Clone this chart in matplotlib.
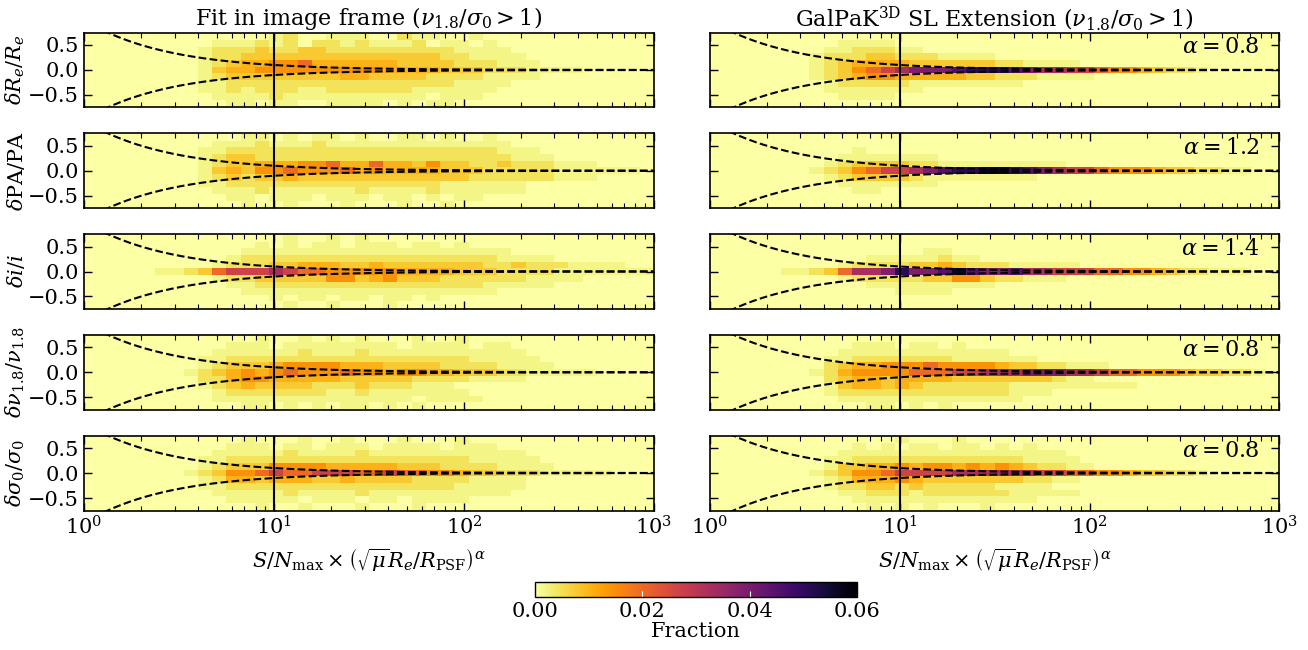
import numpy as np
import matplotlib
matplotlib.use("Agg")
import matplotlib.pyplot as plt

plt.rcParams['font.family'] = 'DejaVu Serif'
plt.rcParams['mathtext.fontset'] = 'dejavuserif'

# histogram binning: 40 log bins over 1..1000, 11 visible rows of width 2/15
x_edges = np.logspace(0, 3, 41)
y_edges = np.linspace(-11 / 15, 11 / 15, 12)

# intensity codes -> fraction
LEVELS = {'0': 0.0, '1': 0.002, '2': 0.0045, '3': 0.0075, '4': 0.0105,
          '5': 0.0145, '6': 0.020, '7': 0.027, '8': 0.033, '9': 0.039,
          'a': 0.045, 'b': 0.051, 'c': 0.057}

# each panel: 11 rows (top = +0.67, bottom = -0.67), 40 columns (x bins)
re_image = [
    "0000000000000120011100211001000000000000",
    "0000000001112120221211120110100000000000",
    "0000000012223223322222222211110000000000",
    "0000000012233333333333333221111000000000",
    "0000000012344556444444333322211100000000",
    "0000000013445555555554444333222111100000",
    "0000000012333333334433332222111100000000",
    "0000000011222222222222222211110000000000",
    "0000000011212221122222211111100000000000",
    "0000000001111211111111110111000000000000",
    "0000000000110110011110101100000000000000",
]
re_galpak = [
    "0000000000000000000000000000000000000000",
    "0000000001111000000000000000000000000000",
    "0000000011222110000000000000000000000000",
    "0000000122233222111100000000000000000000",
    "0000000123444433333322111100000000000000",
    "00000001235678999abbba988776554322100000",
    "0000000123455444443322211110000000000000",
    "0000000012222211111111000000000000000000",
    "0000000011111110000000000000000000000000",
    "0000000001111000000000000000000000000000",
    "0000000000000000000000000000000000000000",
]
pa_image = [
    "0000000000011010110100110100100000000000",
    "0000000001112111211111111111110000000000",
    "0000000011222222222222222222211100000000",
    "0000000012332222222222222222221110000000",
    "0000000012334445564464435332232221110000",
    "0000000013435565556454444333222221111110",
    "0000000012323343333333333332222221110000",
    "0000000011222222222222222111111000000000",
    "0000000001112111111211112111111000000000",
    "0000000000110111011101101011000000000000",
    "0000000000010010001000100100000000000000",
]
pa_galpak = [
    "0000000000000000000000000000000000000000",
    "0000000000000000000000000000000000000000",
    "0000000000100000000000000000000000000000",
    "0000000001111111000000000000000000000000",
    "0000000012333322111111111000000000000000",
    "0000000123567789abbccba98776555433221100",
    "0000000012333321111111100000000000000000",
    "0000000001111111000000000000000000000000",
    "0000000000110000000000000000000000000000",
    "0000000000000000000000000000000000000000",
    "0000000000000000000000000000000000000000",
]
inc_image = [
    "0000000000000010010100000000000000000000",
    "0000000000001010110111011010000000000000",
    "0000000000011111111111111111110000000000",
    "0000000000122222222222222222211110000000",
    "0000000001222334443343333333223222111100",
    "0000011236777876655555444433322221111111",
    "0000000001223333355345333222222111100000",
    "0000000000112222222222222222111110000000",
    "0000000000011111111111111111100000000000",
    "0000000000000101101101101000000000000000",
    "0000000000000010010001000000000000000000",
]
inc_galpak = [
    "0000000000000000000000000000000000000000",
    "0000000000000000000000000000000000000000",
    "0000000000000001100000000000000000000000",
    "0000000000011111211000000000000000000000",
    "0000000001222233432221111100000000000000",
    "0000011236889b99aca99a887776655432211100",
    "0000000001222223355322111000000000000000",
    "0000000000011111111100000000000000000000",
    "0000000000000111100000000000000000000000",
    "0000000000000000000000000000000000000000",
    "0000000000000000000000000000000000000000",
]
vel_image = [
    "0000000000001001010100010010000000000000",
    "0000000000111011111111011110110000000000",
    "0000000001111112111211111111111000000000",
    "0000000011222222222222222221111100000000",
    "0000000012333455554443333222211110000000",
    "0000000123454565556554554433322111110000",
    "0000000022455444443333322221111000000000",
    "0000000012343333222322211100000000000000",
    "0000000001222222211211111110000000000000",
    "0000000001111111111111101111000000000000",
    "0000000000011010101101010000000000000000",
]
vel_galpak = [
    "0000000000000000000000000000000000000000",
    "0000000000111011010000000000000000000000",
    "0000000001111111111110000000000000000000",
    "0000000011222222211111100000000000000000",
    "0000000023445556555543322111000000000000",
    "0000000124555566677888999887665554332210",
    "0000000023443444433333332110000000000000",
    "0000000013443432222221111111110000000000",
    "0000000012222222222221110000000000000000",
    "0000000001111111111111000000000000000000",
    "0000000000011010100000000000000000000000",
]
sig_image = [
    "0000000000010001001000100010000000000000",
    "0000000000111011011101111011100000000000",
    "0000000001111121111211111111111000000000",
    "0000000011222222222222222221111100000000",
    "0000000012333555544444333222211110000000",
    "0000000123556766777667665543322211111000",
    "0000000012443444334333322221111000000000",
    "0000000011222222222222222211111000000000",
    "0000000001111121111211111111110000000000",
    "0000000000111110111011011110000000000000",
    "0000000000001001000100010000000000000000",
]
sig_galpak = [
    "0000000000000100010000000000000000000000",
    "0000000000101011011010100000000000000000",
    "0000000001111111111111111000000000000000",
    "0000000011222222222222111100000000000000",
    "0000000013344545545454322110000000000000",
    "0000000123556777788888877665543322100000",
    "0000000012444543333333221100000000000000",
    "0000000012233232222211110000000000000000",
    "0000000001122212222221111100000000000000",
    "0000000000111111111111100000000000000000",
    "0000000000010101000100000000000000000000",
]

row_labels = [r'$\delta R_e/R_e$', r'$\delta \mathrm{PA}/\mathrm{PA}$', r'$\delta i/i$',
              r'$\delta \nu_{1.8}/\nu_{1.8}$', r'$\delta \sigma_0/\sigma_0$']
left_panels = [re_image, pa_image, inc_image, vel_image, sig_image]
right_panels = [re_galpak, pa_galpak, inc_galpak, vel_galpak, sig_galpak]
alphas = ['0.8', '1.2', '1.4', '0.8', '0.8']
titles = [r'Fit in image frame ($\nu_{1.8}/\sigma_0 > 1$)',
          r'GalPaK$^{\mathrm{3D}}$ SL Extension ($\nu_{1.8}/\sigma_0 > 1$)']


def decode(rows):
    grid = np.array([[LEVELS[c] for c in r.ljust(40, '0')[:40]] for r in rows])
    return grid[::-1]  # bottom row first


cmap = plt.get_cmap('inferno_r')
fig, axes = plt.subplots(5, 2, figsize=(13.08, 6.5), dpi=100)
fig.subplots_adjust(left=0.0642, right=0.9782, top=0.95, bottom=0.2146,
                    wspace=0.098, hspace=0.344)

xx = np.logspace(0, 3, 300)
for i in range(5):
    for j, panels in enumerate([left_panels, right_panels]):
        ax = axes[i, j]
        ax.set_facecolor(cmap(0.0))
        mesh = ax.pcolormesh(x_edges, y_edges, decode(panels[i]), cmap=cmap,
                             vmin=0, vmax=0.06, rasterized=True)
        ax.plot(xx, 1 / xx, 'k--', lw=1.5)
        ax.plot(xx, -1 / xx, 'k--', lw=1.5)
        ax.axvline(10, color='k', lw=1.5)
        ax.set_xscale('log')
        ax.set_xlim(1, 1000)
        ax.set_ylim(-0.75, 0.75)
        ax.set_yticks([-0.5, 0, 0.5])
        ax.tick_params(which='both', direction='in', top=True, right=True,
                       labelsize=15)
        ax.tick_params(which='major', length=6, width=1)
        ax.tick_params(which='minor', length=3.5, width=0.8)
        for sp in ax.spines.values():
            sp.set_linewidth(1.2)
        if j == 0:
            ax.set_ylabel(row_labels[i], fontsize=15, labelpad=1)
        else:
            ax.set_yticklabels([])
            ax.text(0.965, 0.80, r'$\alpha = %s$' % alphas[i], transform=ax.transAxes,
                    ha='right', va='center', fontsize=16)
        if i < 4:
            ax.set_xticklabels([])
        else:
            ax.set_xlabel(r'$S/N_{\mathrm{max}} \times \left(\sqrt{\mu} R_e/R_{\mathrm{PSF}}\right)^\alpha$',
                          fontsize=15, labelpad=6)
        if i == 0:
            ax.set_title(titles[j], fontsize=16, pad=4)

cax = fig.add_axes([0.409, 0.082, 0.2464, 0.0222])
cb = fig.colorbar(mesh, cax=cax, orientation='horizontal')
cb.set_ticks([0, 0.02, 0.04, 0.06])
cb.ax.xaxis.set_major_formatter(matplotlib.ticker.FormatStrFormatter('%.2f'))
cb.ax.tick_params(direction='in', colors='white', labelcolor='black', labelsize=15,
                  length=4)
cb.outline.set_linewidth(1)
cb.set_label('Fraction', fontsize=15, labelpad=1)

fig.savefig('out.png', dpi=100)
